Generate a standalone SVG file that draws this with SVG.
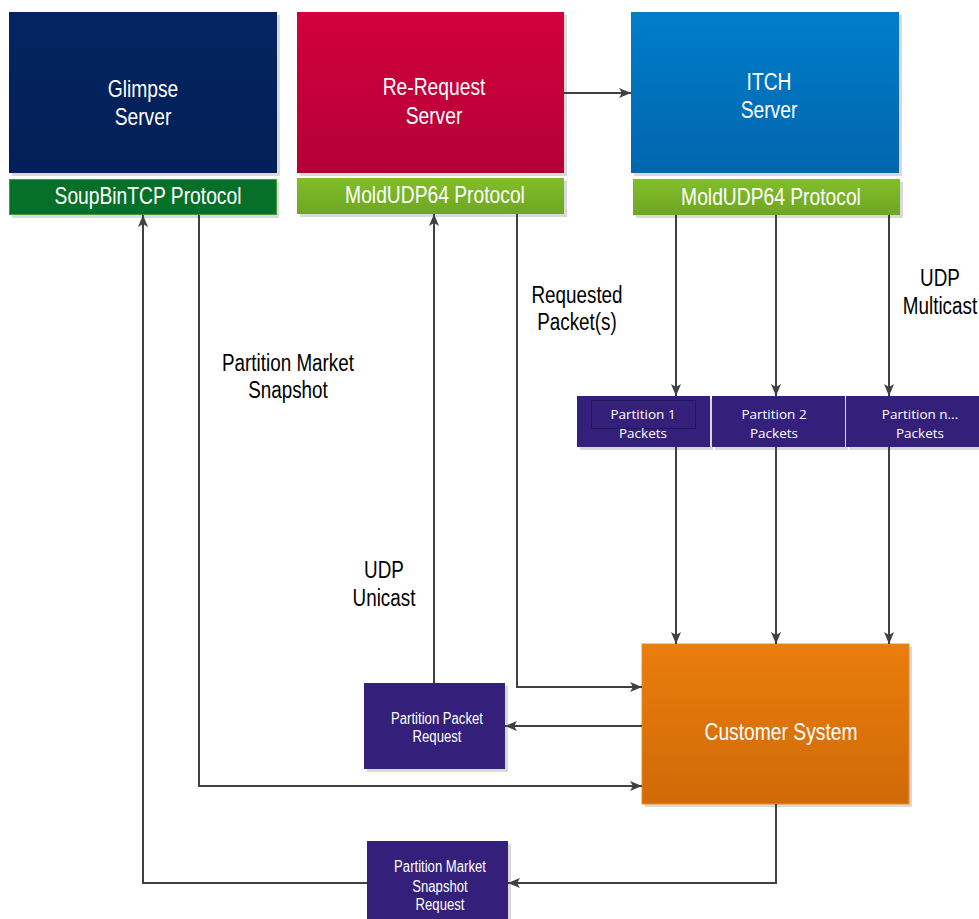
<svg xmlns="http://www.w3.org/2000/svg" width="979" height="919" viewBox="0 0 979 919">
<defs>
  <linearGradient id="gRed" x1="0" y1="0" x2="0" y2="1"><stop offset="0" stop-color="#D2003C"/><stop offset="1" stop-color="#B50037"/></linearGradient>
  <linearGradient id="gBlue" x1="0" y1="0" x2="0" y2="1"><stop offset="0" stop-color="#007DCA"/><stop offset="1" stop-color="#0066AE"/></linearGradient>
  <linearGradient id="gNavy" x1="0" y1="0" x2="0" y2="1"><stop offset="0" stop-color="#03245F"/><stop offset="1" stop-color="#022058"/></linearGradient>
  <linearGradient id="gLime" x1="0" y1="0" x2="0" y2="1"><stop offset="0" stop-color="#82BE2A"/><stop offset="1" stop-color="#6EA622"/></linearGradient>
  <linearGradient id="gOrange" x1="0" y1="0" x2="0" y2="1"><stop offset="0" stop-color="#EA7D0C"/><stop offset="1" stop-color="#D06A08"/></linearGradient>
  <marker id="arr" viewBox="0 0 12 10" refX="12" refY="5" markerWidth="12" markerHeight="10" markerUnits="userSpaceOnUse" orient="auto">
    <path d="M0,0 L12,5 L0,10 L3,5 Z" fill="#404040"/>
  </marker>
  <style>
    .shadow { fill: #D9D9D9; }
    .big { font-family: "Liberation Sans", Arial, sans-serif; font-size: 23.5px; fill: #FFFFFF; text-anchor: middle; }
    .lbl { font-family: "Liberation Sans", Arial, sans-serif; font-size: 23px; fill: #000000; text-anchor: middle; }
    .small { font-family: "Liberation Sans", Arial, sans-serif; font-size: 16px; fill: #FFFFFF; text-anchor: middle; }
    .part { font-family: "Open Sans", "Liberation Sans", sans-serif; font-size: 13.5px; fill: #FFFFFF; text-anchor: middle; }
    .purple { fill: #34207A; }
    .conn { fill: none; stroke: #404040; stroke-width: 2; }
  </style>
</defs>

<g id="glimpse">
  <rect class="shadow" x="12" y="15" width="268" height="161"/>
  <rect x="9" y="12" width="268" height="161" fill="url(#gNavy)"/>
  <text class="big" transform="translate(143,97) scale(0.82,1)">Glimpse</text>
  <text class="big" transform="translate(143,125) scale(0.82,1)">Server</text>
</g>
<g id="soupbin">
  <rect class="shadow" x="12" y="182" width="267" height="36"/>
  <rect x="9.5" y="179.5" width="267" height="35" fill="#077028" stroke="#3D9E3A" stroke-width="1"/>
  <text class="big" transform="translate(148,204) scale(0.82,1)">SoupBinTCP Protocol</text>
</g>

<g id="rerequest">
  <rect class="shadow" x="300" y="15" width="267" height="161"/>
  <rect x="297" y="12" width="267" height="161" fill="url(#gRed)"/>
  <text class="big" transform="translate(434,95) scale(0.82,1)">Re-Request</text>
  <text class="big" transform="translate(434,124) scale(0.82,1)">Server</text>
</g>
<g id="mold1">
  <rect class="shadow" x="300" y="181" width="267" height="36"/>
  <rect x="297" y="178" width="267" height="36" fill="url(#gLime)"/>
  <text class="big" transform="translate(435,203) scale(0.82,1)">MoldUDP64 Protocol</text>
</g>

<g id="itch">
  <rect class="shadow" x="634" y="15" width="268" height="161"/>
  <rect x="631" y="12" width="268" height="161" fill="url(#gBlue)"/>
  <text class="big" transform="translate(769,90) scale(0.82,1)">ITCH</text>
  <text class="big" transform="translate(769,118) scale(0.82,1)">Server</text>
</g>
<g id="mold2">
  <rect class="shadow" x="636" y="182" width="267" height="36"/>
  <rect x="633" y="179" width="267" height="36" fill="url(#gLime)"/>
  <text class="big" transform="translate(771,205) scale(0.82,1)">MoldUDP64 Protocol</text>
</g>

<g id="partition1">
  <rect class="shadow" x="580" y="399" width="133" height="51"/>
  <rect class="purple" x="577" y="396" width="133" height="51"/>
  <rect x="591.5" y="400.5" width="104" height="28" fill="none" stroke="#1E1A5A" stroke-width="1"/>
  <text class="part" x="643" y="419">Partition 1</text>
  <text class="part" x="643" y="438">Packets</text>
</g>
<g id="partition2">
  <rect class="shadow" x="715" y="399" width="133" height="51"/>
  <rect class="purple" x="712" y="396" width="133" height="51"/>
  <text class="part" x="774" y="419">Partition 2</text>
  <text class="part" x="774" y="438">Packets</text>
</g>
<g id="partitionn">
  <rect class="shadow" x="849" y="399" width="133" height="51"/>
  <rect class="purple" x="846" y="396" width="133" height="51"/>
  <text class="part" x="920" y="419">Partition n...</text>
  <text class="part" x="920" y="438">Packets</text>
</g>

<g id="customer">
  <rect class="shadow" x="645" y="647" width="267" height="160"/>
  <rect x="642" y="644" width="267" height="160" fill="url(#gOrange)" stroke="#F08A1C" stroke-width="1"/>
  <text class="big" transform="translate(781,740) scale(0.82,1)">Customer System</text>
</g>

<g id="ppr">
  <rect class="shadow" x="367" y="686" width="141" height="86"/>
  <rect class="purple" x="364" y="683" width="141" height="86"/>
  <text class="small" transform="translate(437,724) scale(0.82,1)">Partition Packet</text>
  <text class="small" transform="translate(437,742) scale(0.82,1)">Request</text>
</g>

<g id="pmsr">
  <rect class="shadow" x="370" y="844" width="141" height="78"/>
  <rect class="purple" x="367" y="841" width="141" height="78"/>
  <text class="small" transform="translate(440,872) scale(0.82,1)">Partition Market</text>
  <text class="small" transform="translate(440,892) scale(0.82,1)">Snapshot</text>
  <text class="small" transform="translate(440,910) scale(0.82,1)">Request</text>
</g>

<g id="connectors">
  <line class="conn" x1="564" y1="93" x2="631" y2="93" marker-end="url(#arr)"/>
  <line class="conn" x1="676" y1="215" x2="676" y2="396" marker-end="url(#arr)"/>
  <line class="conn" x1="776" y1="215" x2="776" y2="396" marker-end="url(#arr)"/>
  <line class="conn" x1="889" y1="215" x2="889" y2="396" marker-end="url(#arr)"/>
  <line class="conn" x1="676" y1="447" x2="676" y2="644" marker-end="url(#arr)"/>
  <line class="conn" x1="776" y1="447" x2="776" y2="644" marker-end="url(#arr)"/>
  <line class="conn" x1="889" y1="447" x2="889" y2="644" marker-end="url(#arr)"/>
  <polyline class="conn" points="517,214 517,687 642,687" marker-end="url(#arr)"/>
  <line class="conn" x1="642" y1="726" x2="505" y2="726" marker-end="url(#arr)"/>
  <line class="conn" x1="434" y1="683" x2="434" y2="214" marker-end="url(#arr)"/>
  <polyline class="conn" points="199,215 199,786 642,786" marker-end="url(#arr)"/>
  <polyline class="conn" points="776,804 776,883 508,883" marker-end="url(#arr)"/>
  <polyline class="conn" points="367,883 143,883 143,215" marker-end="url(#arr)"/>
</g>

<g id="labels">
  <text class="lbl" transform="translate(288,371) scale(0.82,1)">Partition Market</text>
  <text class="lbl" transform="translate(288,398) scale(0.82,1)">Snapshot</text>
  <text class="lbl" transform="translate(384,578) scale(0.82,1)">UDP</text>
  <text class="lbl" transform="translate(384,606) scale(0.82,1)">Unicast</text>
  <text class="lbl" transform="translate(577,303) scale(0.82,1)">Requested</text>
  <text class="lbl" transform="translate(577,330) scale(0.82,1)">Packet(s)</text>
  <text class="lbl" transform="translate(940,286) scale(0.82,1)">UDP</text>
  <text class="lbl" transform="translate(940,314) scale(0.82,1)">Multicast</text>
</g>
</svg>
